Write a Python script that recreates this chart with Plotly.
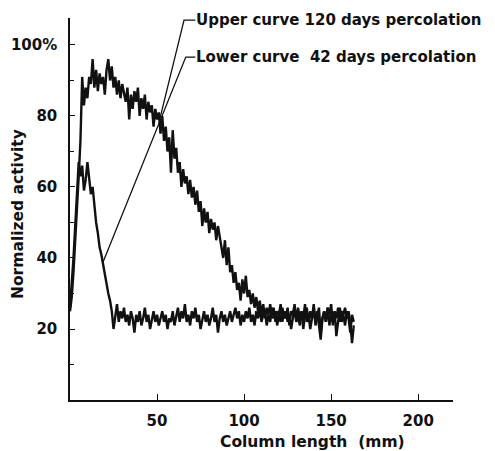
import plotly.graph_objects as go

# Column length positions (mm) for the sampled traces
column_mm = list(range(0, 164))

# Upper curve: 120 days percolation (normalized activity, %)
upper_120d = [
    25, 29, 36, 44, 54, 63, 73, 91, 83, 88,
    85, 91, 89, 96, 88, 93, 87, 92, 89, 91,
    86, 93, 96, 90, 94, 88, 91, 86, 90, 85,
    89, 86, 84, 88, 79, 86, 82, 87, 84, 88,
    80, 85, 82, 86, 79, 84, 81, 83, 77, 82,
    79, 81, 75, 80, 73, 77, 70, 74, 64, 76,
    68, 71, 64, 67, 60, 65, 61, 63, 58, 62,
    57, 60, 55, 59, 53, 56, 49, 54, 50, 53,
    47, 51, 48, 50, 45, 49, 46, 44, 40, 45,
    38, 43, 36, 38, 33, 36, 31, 33, 28, 34,
    30, 35, 29, 31, 27, 30, 26, 29, 25, 28,
    24, 27, 23, 26, 24, 27, 23, 26, 22, 25,
    24, 27, 22, 25, 23, 26, 21, 25, 24, 27,
    22, 26, 23, 25, 20, 24, 26, 22, 25, 23,
    27, 21, 24, 26, 19, 23, 25, 22, 26, 24,
    27, 21, 25, 23, 26, 22, 25, 24, 26, 23,
    25, 22, 16, 21,
]

# Lower curve: 42 days percolation (normalized activity, %)
lower_42d = [
    26, 32, 40, 49, 58, 67, 63, 66, 59, 62,
    67, 63, 58, 60, 54, 50, 47, 43, 41, 38,
    36, 33, 30, 28, 25, 20, 24, 27, 22, 25,
    23, 26, 22, 24, 21, 25, 23, 19, 24, 22,
    25, 21, 23, 26, 22, 24, 20, 23, 25, 22,
    24, 21, 23, 25, 22, 24, 20, 23, 22, 25,
    21, 24, 26, 22, 25, 23, 27, 22, 24, 21,
    25, 23, 26, 22, 24, 20, 23, 25, 22, 24,
    21, 23, 26, 22, 24, 19, 23, 25, 22, 24,
    21, 23, 25, 22, 24, 26, 23, 25, 21, 24,
    22, 25, 23, 26, 22, 24, 21, 25, 23, 26,
    22, 24, 25, 21, 24, 22, 26, 23, 25, 21,
    24, 22, 26, 23, 25, 22, 24, 20, 23, 26,
    22, 24, 21, 25, 23, 27, 22, 24, 20, 23,
    26, 22, 25, 21, 17, 23, 25, 22, 26, 21,
    24, 22, 25, 18, 23, 26, 22, 24, 21, 25,
    23, 19, 24, 22,
]

x_tick_vals = [50, 100, 150, 200]
x_tick_text = ["50", "100", "150", "200"]
y_tick_vals = [20, 40, 60, 80, 100]
y_tick_text = ["20", "40", "60", "80", "100%"]

label_upper = "Upper curve 120 days percolation"
label_lower = "Lower curve\u00a0\u00a042 days percolation"
x_title = "Column length\u00a0\u00a0(mm)"
y_title = "Normalized activity"

FONT = "DejaVu Sans"
INK = "#111111"

# page body has an 8px margin, so the figure is offset by (8, 8)
fig = go.Figure()
fig.add_trace(go.Scatter(x=column_mm, y=lower_42d, mode="lines",
                         line=dict(color=INK, width=2.4), showlegend=False))
fig.add_trace(go.Scatter(x=column_mm, y=upper_120d, mode="lines",
                         line=dict(color=INK, width=2.4), showlegend=False))

# leader lines: tip on curve -> bend -> short horizontal dash to label
leaders = [
    ((51.7, 79.4), (65.5, 107.0), (72.0, 107.0), label_upper),
    ((19.0, 38.9), (66.5, 96.6), (72.0, 96.6), label_lower),
]
for tip, bend, end, txt in leaders:
    fig.add_shape(type="path", xref="x", yref="y",
                  path=f"M {tip[0]},{tip[1]} L {bend[0]},{bend[1]} L {end[0]},{end[1]}",
                  line=dict(color=INK, width=1.3))
    fig.add_annotation(x=end[0], y=end[1], xref="x", yref="y", text=txt,
                       showarrow=False, xanchor="left", yanchor="middle",
                       xshift=-1, font=dict(family=FONT, size=15, color=INK, weight="bold"))

fig.update_layout(
    width=487, height=443,
    margin=dict(l=62, r=42, t=10, b=51),
    paper_bgcolor="white", plot_bgcolor="white",
    font=dict(family=FONT, size=15, color=INK, weight="bold"),
    xaxis=dict(range=[0, 220], showgrid=False, zeroline=False, showline=True,
               linecolor=INK, linewidth=1.5, ticks="inside", ticklen=6,
               tickcolor=INK, tickwidth=1.2, tickvals=x_tick_vals, ticktext=x_tick_text,
               ticklabelstandoff=6, automargin=False),
    yaxis=dict(range=[0, 107.6], showgrid=False, zeroline=False, showline=True,
               linecolor=INK, linewidth=1.5, ticks="inside", ticklen=5,
               tickcolor=INK, tickwidth=1.2, tickvals=y_tick_vals, ticktext=y_tick_text,
               ticklabelstandoff=8, automargin=False,
               minor=dict(ticks="inside", ticklen=4, tickcolor=INK, dtick=10, tick0=0)),
)

# axis titles as free annotations (positions offset like the original)
fig.add_annotation(text=x_title, xref="paper", yref="paper",
                   x=(312 - 70) / 383, y=-(442 - 400) / 382,
                   showarrow=False, xanchor="center", yanchor="middle",
                   font=dict(family=FONT, size=15.5, color=INK, weight="bold"))
fig.add_annotation(text=y_title, xref="paper", yref="paper",
                   x=-(70 - 18) / 383, y=(400 - 214) / 382, textangle=-90,
                   showarrow=False, xanchor="center", yanchor="middle",
                   font=dict(family=FONT, size=15.5, color=INK, weight="bold"))

fig.write_html("out.html")
